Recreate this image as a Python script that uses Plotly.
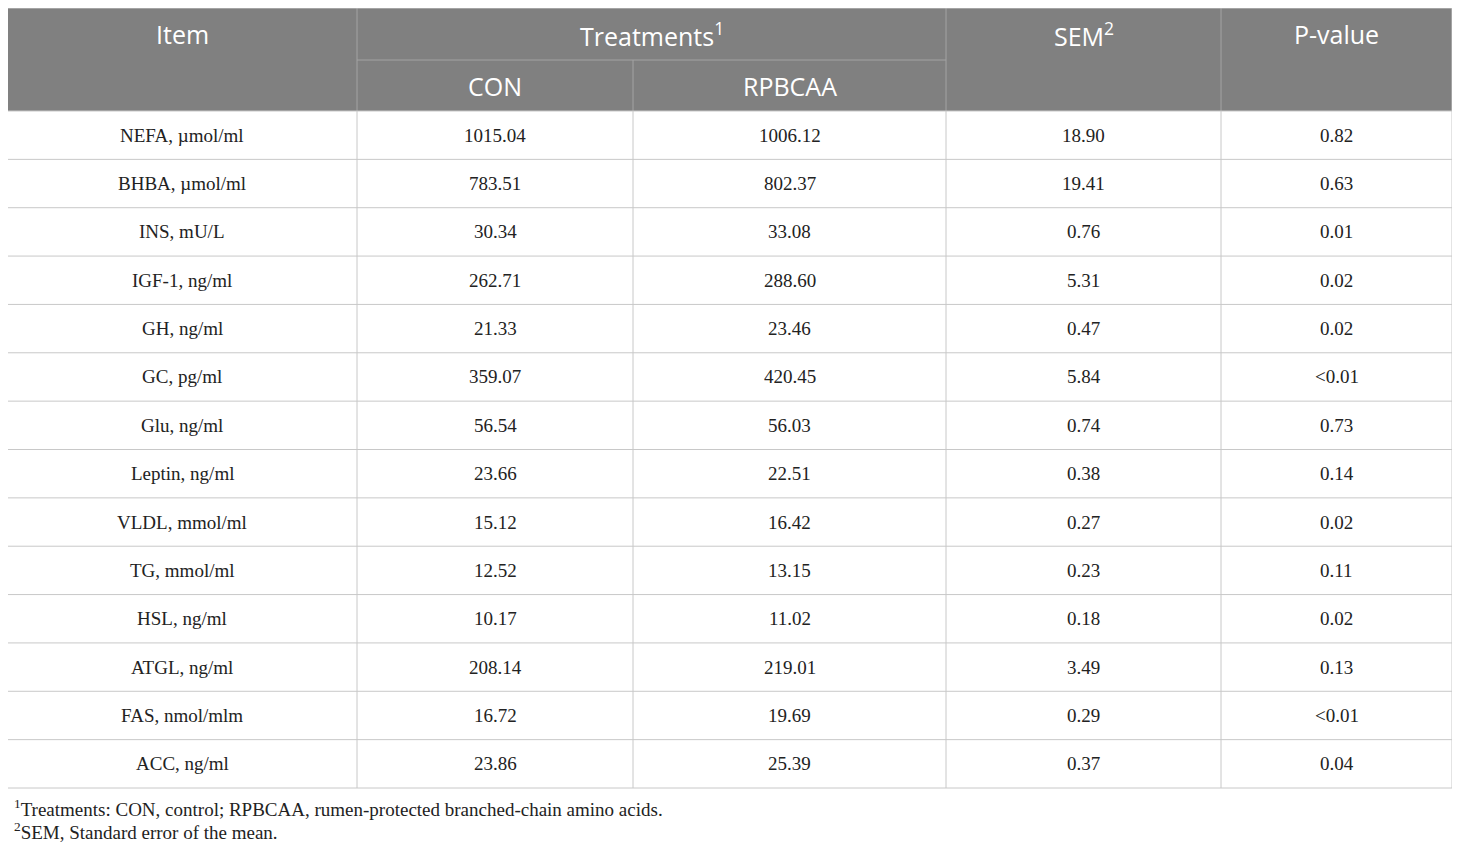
import plotly.graph_objects as go

# table content
items = ['NEFA, µmol/ml', 'BHBA, µmol/ml', 'INS, mU/L', 'IGF-1, ng/ml', 'GH, ng/ml',
         'GC, pg/ml', 'Glu, ng/ml', 'Leptin, ng/ml', 'VLDL, mmol/ml', 'TG, mmol/ml',
         'HSL, ng/ml', 'ATGL, ng/ml', 'FAS, nmol/mlm', 'ACC, ng/ml']
con = ['1015.04', '783.51', '30.34', '262.71', '21.33', '359.07', '56.54', '23.66',
       '15.12', '12.52', '10.17', '208.14', '16.72', '23.86']
rpbcaa = ['1006.12', '802.37', '33.08', '288.60', '23.46', '420.45', '56.03', '22.51',
          '16.42', '13.15', '11.02', '219.01', '19.69', '25.39']
sem = ['18.90', '19.41', '0.76', '5.31', '0.47', '5.84', '0.74', '0.38', '0.27',
       '0.23', '0.18', '3.49', '0.29', '0.37']
pvalue = ['0.82', '0.63', '0.01', '0.02', '0.02', '&lt;0.01', '0.73', '0.14', '0.02',
          '0.11', '0.02', '0.13', '&lt;0.01', '0.04']
footnotes = ['<sup>1</sup>Treatments: CON, control; RPBCAA, rumen-protected branched-chain amino acids.',
             '<sup>2</sup>SEM, Standard error of the mean.']

# layout, in window pixels (the page body has an 8px margin, so the figure
# is made 8px smaller and its axes start at 8)
W, H = 1460, 847
PAD = 8
col_x = [7, 357, 633, 946, 1221, 1452]
head_top, head_mid, head_bot = 8, 60, 111
body_bot = 788
row_h = (body_bot - head_bot) / len(items)
note_x, note_y, note_gap = 12, 808, 23

HEAD_FILL = '#808080'
HEAD_LINE = '#a3a3a3'
GRID = '#c8c8c8'
SANS = 'Open Sans'
SERIF = 'Liberation Serif'

shapes = []
annotations = []


def line(x0, y0, x1, y1, color, w=1):
    shapes.append(dict(type='line', xref='x', yref='y', x0=x0, y0=y0, x1=x1, y1=y1,
                       line=dict(color=color, width=w), layer='above'))


def text(x, y, s, size, family, color, xanchor='center'):
    annotations.append(dict(x=x, y=y, xref='x', yref='y', text=s, showarrow=False,
                            xanchor=xanchor, yanchor='middle',
                            font=dict(size=size, family=family, color=color)))


# header block
shapes.append(dict(type='rect', xref='x', yref='y', x0=col_x[0], x1=col_x[-1],
                   y0=head_top, y1=head_bot, fillcolor=HEAD_FILL, line=dict(width=0),
                   layer='below'))
for cx in [col_x[1], col_x[3], col_x[4]]:
    line(cx, head_top, cx, head_bot, HEAD_LINE)
line(col_x[2], head_mid, col_x[2], head_bot, HEAD_LINE)
line(col_x[1], head_mid, col_x[3], head_mid, HEAD_LINE)

r1 = (head_top + head_mid) / 2
r2 = (head_mid + head_bot) / 2
mid = lambda i: (col_x[i] + col_x[i + 1]) / 2
text(mid(0), r1, 'Item', 25, SANS, 'white')
text((col_x[1] + col_x[3]) / 2, r1, 'Treatments<sup>1</sup>', 25, SANS, 'white')
text(mid(3), r1, 'SEM<sup>2</sup>', 25, SANS, 'white')
text(mid(4), r1, 'P-value', 25, SANS, 'white')
text(mid(1), r2, 'CON', 25, SANS, 'white')
text(mid(2), r2, 'RPBCAA', 25, SANS, 'white')

# body grid
for i in range(len(items) + 1):
    y = head_bot + i * row_h
    line(col_x[0], y, col_x[-1], y, GRID)
for cx in col_x:
    line(cx, head_bot, cx, body_bot, GRID)
line(col_x[0], head_top, col_x[0], head_bot, GRID)
line(col_x[-1], head_top, col_x[-1], head_bot, GRID)
line(col_x[0], head_top, col_x[-1], head_top, GRID)

columns = [items, con, rpbcaa, sem, pvalue]
for j, col in enumerate(columns):
    for i, val in enumerate(col):
        text(mid(j), head_bot + (i + 0.5) * row_h, val, 19, SERIF, '#222222')

# footnotes
for k, note in enumerate(footnotes):
    text(note_x, note_y + k * note_gap, note, 19, SERIF, '#222222', xanchor='left')

fig = go.Figure()
fig.update_layout(
    width=W - PAD, height=H - PAD,
    margin=dict(l=0, r=0, t=0, b=0),
    paper_bgcolor='white', plot_bgcolor='white',
    xaxis=dict(range=[PAD, W], visible=False, fixedrange=True),
    yaxis=dict(range=[H, PAD], visible=False, fixedrange=True),
    shapes=shapes, annotations=annotations,
    showlegend=False,
)
fig.write_html('out.html')
